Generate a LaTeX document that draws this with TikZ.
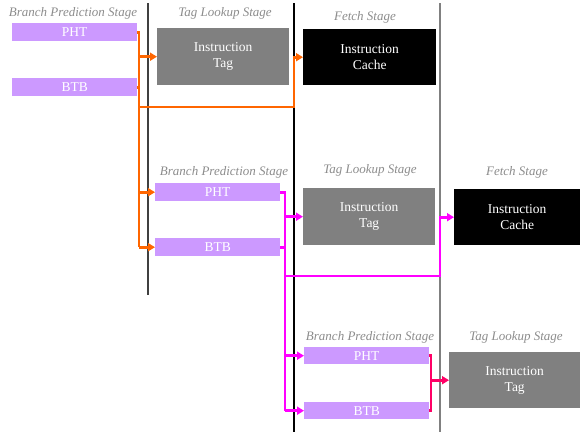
\documentclass[tikz,border=0pt]{standalone}
\usepackage{fontspec}
\setmainfont{Liberation Serif}
\usetikzlibrary{arrows.meta}

\definecolor{PredPurple}{HTML}{CC99FF}
\definecolor{TagGray}{HTML}{808080}
\definecolor{BusOrange}{HTML}{FF6600}
\definecolor{BusMagenta}{HTML}{FF00FF}
\definecolor{BusPink}{HTML}{FF0066}
\definecolor{TitleGray}{HTML}{8C8C8C}

\begin{document}
\begin{tikzpicture}[x=1pt,y=-1pt]
		\tikzstyle{StageTitle} = [text=TitleGray, font=\itshape\fontsize{13}{15}\selectfont]
		\tikzstyle{BoxStyle}   = [anchor=north west, inner sep=0pt, text=white, align=center, font=\fontsize{13.5}{16}\selectfont]
		\tikzstyle{PredBox}    = [BoxStyle, fill=PredPurple, minimum width=125pt, minimum height=18pt]
		\tikzstyle{TagBox}     = [BoxStyle, fill=TagGray, minimum width=132pt, minimum height=57pt]
		\tikzstyle{CacheBox}   = [BoxStyle, fill=black, minimum width=133pt, minimum height=56pt]
		\tikzstyle{BusStyle}   = [line width=2.6pt, line cap=butt]
		\tikzstyle{BusArrow}   = [BusStyle, -{Triangle[length=7pt,width=8pt]}]
		
		\useasboundingbox (0,0) rectangle (580,434);
		
		% stage dividers
		\draw[line width=1.3pt, black!75] (148,3) -- (148,295);
		\draw[line width=1.3pt, black] (294,3) -- (294,432);
		\draw[line width=1.3pt, TagGray] (440,3) -- (440,432);
		
		% first cycle
		\node[StageTitle] (bp1) at (73,13) {Branch Prediction Stage};
		\node[StageTitle] (tl1) at (225,13) {Tag Lookup Stage};
		\node[StageTitle] (fs1) at (365,17) {Fetch Stage};
		\node[PredBox] (pht1) at (12,23) {PHT};
		\node[PredBox] (btb1) at (12,78) {BTB};
		\node[TagBox] (tag1) at (157,28) {Instruction\\Tag};
		\node[CacheBox] (cache1) at (303,29) {Instruction\\Cache};
		
		% second cycle
		\node[StageTitle] (bp2) at (224,172) {Branch Prediction Stage};
		\node[StageTitle] (tl2) at (370,170) {Tag Lookup Stage};
		\node[StageTitle] (fs2) at (517,172) {Fetch Stage};
		\node[PredBox] (pht2) at (155,183) {PHT};
		\node[PredBox] (btb2) at (155,238) {BTB};
		\node[TagBox] (tag2) at (303,188) {Instruction\\Tag};
		\node[CacheBox, minimum width=126pt] (cache2) at (454,189) {Instruction\\Cache};
		
		% third cycle
		\node[StageTitle] (bp3) at (370,337) {Branch Prediction Stage};
		\node[StageTitle] (tl3) at (516,337) {Tag Lookup Stage};
		\node[PredBox, minimum height=17pt] (pht3) at (304,347) {PHT};
		\node[PredBox, minimum height=17pt] (btb3) at (304,402) {BTB};
		\node[TagBox, minimum width=131pt, minimum height=56pt] (tag3) at (449,352) {Instruction\\Tag};
		
		\coordinate (OrBus) at (139,0);
		\coordinate (OrJoin) at (139,107);
		\coordinate (MgBus) at (285,0);
		\coordinate (MgJoin) at (285,276);
		\coordinate (PkBus) at (431,0);
		\coordinate (DivB) at (294,0);
		\coordinate (DivC) at (440,0);
		
		% orange bus
		\draw[BusStyle, BusOrange] (pht1.east) -- (pht1.east -| OrBus) -- (btb2.west -| OrBus);
		\draw[BusStyle, BusOrange] (btb1.east) -- (btb1.east -| OrBus);
		\draw[BusArrow, BusOrange] (tag1.west -| OrBus) -- (tag1.west);
		\draw[BusArrow, BusOrange] (OrJoin) -| (cache1.west -| DivB) -- (cache1.west);
		\draw[BusArrow, BusOrange] (pht2.west -| OrBus) -- (pht2.west);
		\draw[BusArrow, BusOrange] (btb2.west -| OrBus) -- (btb2.west);
		
		% magenta bus
		\draw[BusStyle, BusMagenta] (pht2.east) -- (pht2.east -| MgBus) -- (btb3.west -| MgBus);
		\draw[BusStyle, BusMagenta] (btb2.east) -- (btb2.east -| MgBus);
		\draw[BusArrow, BusMagenta] (tag2.west -| MgBus) -- (tag2.west);
		\draw[BusArrow, BusMagenta] (MgJoin) -| (cache2.west -| DivC) -- (cache2.west);
		\draw[BusArrow, BusMagenta] (pht3.west -| MgBus) -- (pht3.west);
		\draw[BusArrow, BusMagenta] (btb3.west -| MgBus) -- (btb3.west);
		
		% pink bus
		\draw[BusStyle, BusPink] (pht3.east) -- (pht3.east -| PkBus) -- (btb3.east -| PkBus) -- (btb3.east);
		\draw[BusArrow, BusPink] (tag3.west -| PkBus) -- (tag3.west);
	\end{tikzpicture}
\end{document}
